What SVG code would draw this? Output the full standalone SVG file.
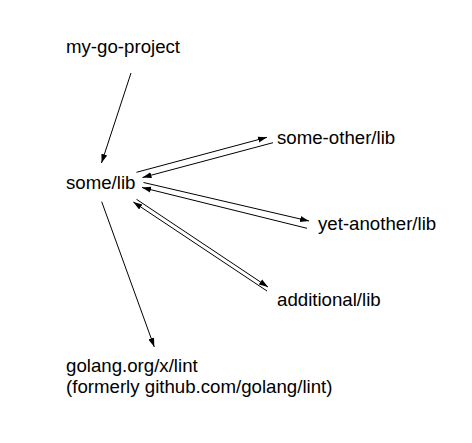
<svg xmlns="http://www.w3.org/2000/svg" width="472" height="443" viewBox="0 0 472 443">
<style>
text{font-family:"Liberation Sans",Arial,sans-serif;font-size:18.67px;fill:#000}
.c line{stroke:#000;stroke-width:1;marker-end:url(#ah)}
</style>
<defs>
<marker id="ah" markerUnits="userSpaceOnUse" markerWidth="10" markerHeight="8" refX="9" refY="3" orient="auto" viewBox="0 0 10 6">
<path d="M0,0 L9,3 L0,6 Z" fill="#000"/>
</marker>
</defs>
<rect width="472" height="443" fill="#fff"/>
<g class="c" id="connectors">
<line x1="131" y1="73" x2="101.5" y2="163"/>
<line x1="136.5" y1="172.3" x2="267" y2="137.3"/>
<line x1="273" y1="142.7" x2="142.5" y2="177.5"/>
<line x1="143.5" y1="182.5" x2="309" y2="221"/>
<line x1="307" y1="228.3" x2="142" y2="187.5"/>
<line x1="136.5" y1="199.3" x2="268" y2="287"/>
<line x1="267" y1="291" x2="133.3" y2="202"/>
<line x1="101.7" y1="201.7" x2="154.3" y2="347"/>
</g>
<g id="my-go-project"><text x="66" y="53">my-go-project</text></g>
<g id="some-lib"><text x="66" y="189">some/lib</text></g>
<g id="some-other-lib"><text x="277" y="144">some-other/lib</text></g>
<g id="yet-another-lib"><text x="318" y="230">yet-another/lib</text></g>
<g id="additional-lib"><text x="277" y="306">additional/lib</text></g>
<g id="golang-lint"><text x="66" y="372">golang.org/x/lint</text><text x="66" y="393">(formerly github.com/golang/lint)</text></g>
</svg>
